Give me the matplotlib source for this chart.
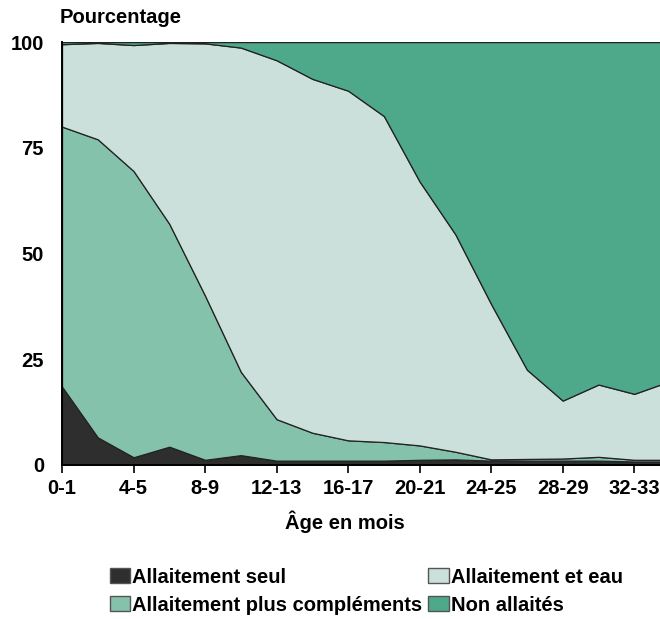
import numpy as np
import matplotlib
matplotlib.use("Agg")
import matplotlib.pyplot as plt
from matplotlib.patches import Patch

plt.rcParams['font.family'] = ['Liberation Sans', 'DejaVu Sans']

# Age groups (months), one point every 2 months
ages = ['0-1', '2-3', '4-5', '6-7', '8-9', '10-11', '12-13', '14-15', '16-17',
        '18-19', '20-21', '22-23', '24-25', '26-27', '28-29', '30-31', '32-33', '34-35']

# Percentages (per group, stacked bottom to top)
seul = [18.5, 6.5, 1.8, 4.3, 1.2, 2.3, 1.0, 1.0, 1.0, 1.0, 1.2, 1.3, 1.0, 1.0, 1.0, 1.0, 0.8, 0.8]
complements = [61.5, 70.5, 67.7, 52.7, 38.8, 19.7, 9.8, 6.6, 4.8, 4.4, 3.4, 1.8, 0.3, 0.4, 0.5, 0.9, 0.4, 0.4]
eau = [19.5, 22.8, 29.8, 42.8, 59.7, 76.7, 84.9, 83.7, 82.7, 77.1, 62.4, 51.4, 36.7, 21.1, 13.7, 17.1, 15.6, 18.6]
non_allaites = [0.5, 0.2, 0.7, 0.2, 0.3, 1.3, 4.3, 8.7, 11.5, 17.5, 33.0, 45.5, 62.0, 77.5, 84.8, 81.0, 83.2, 80.2]

labels = ['Allaitement seul', 'Allaitement plus compléments', 'Allaitement et eau', 'Non allaités']
colors = ['#2e2e2e', '#84c2ac', '#cbdfdb', '#4ea88a']

x = np.arange(len(ages))

fig = plt.figure(figsize=(6.6, 6.19), dpi=100)
ax = fig.add_axes([0.094, 0.249, 0.906, 0.683])

ax.stackplot(x, seul, complements, eau, non_allaites, colors=colors,
             edgecolor='#222222', linewidth=0.9)

ax.set_xlim(0, 16.72)
ax.set_ylim(0, 100)
ax.set_yticks([0, 25, 50, 75, 100])
ax.set_xticks(x[::2])
ax.set_xticklabels(ages[::2])
ax.tick_params(axis='y', length=0, pad=13, labelsize=14.5)
ax.tick_params(axis='x', length=6, width=1.2, direction='out', pad=4, labelsize=14.5)
for lab in ax.get_xticklabels() + ax.get_yticklabels():
    lab.set_fontweight('bold')

ax.spines['right'].set_visible(False)
ax.spines['top'].set_visible(False)
ax.spines['left'].set_linewidth(1.4)
ax.spines['bottom'].set_linewidth(1.4)

fig.text(0.09, 0.971, 'Pourcentage', fontsize=14.5, fontweight='bold', va='center', ha='left')
fig.text(0.523, 0.157, 'Âge en mois', fontsize=14.5, fontweight='bold', va='center', ha='center')

handles = [Patch(facecolor=c, edgecolor='#555555') for c in colors]
fig.legend(handles, labels, ncol=2, loc='center', bbox_to_anchor=(0.555, 0.045),
           frameon=False, handlelength=1.0, handleheight=0.8, handletextpad=0.1,
           columnspacing=0.3, labelspacing=0.45,
           prop={'size': 14.5, 'weight': 'bold'})

fig.savefig('out.png', dpi=100)
